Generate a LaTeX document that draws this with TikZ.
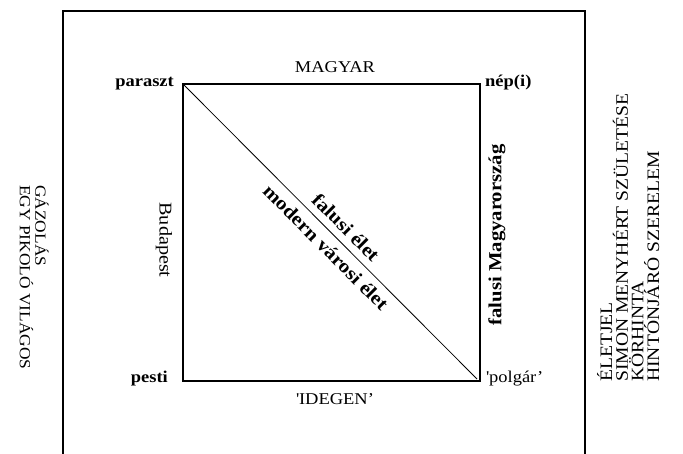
\documentclass[tikz,border=0pt]{standalone}
\usepackage{fontspec}
\setmainfont{Liberation Serif}[FakeStretch=1.12]
\tikzset{
  frameline/.style={line width=1.1pt},
  sqline/.style={line width=1.1pt},
  diagline/.style={line width=0.8pt},
  lbl/.style={font=\fontsize{16.5}{16.5}\selectfont, inner sep=0pt},
  blbl/.style={font=\fontsize{16.5}{16.5}\selectfont\bfseries, inner sep=0pt},
  sidebox/.style={inner sep=0pt, align=left}
}
\begin{document}
\begin{tikzpicture}[x=1pt,y=-1pt]
\useasboundingbox (0,0) rectangle (683,454);
% outer frame
\coordinate (oTL) at (63,11);
\coordinate (oTR) at (585,11);
\coordinate (oBL) at (63,454);
\coordinate (oBR) at (585,454);
\draw[frameline] (oBL) -- (oTL) -- (oTR) -- (oBR);
% square
\coordinate (pTL) at (183,84);
\coordinate (pTR) at (480,84);
\coordinate (pBL) at (183,381);
\coordinate (pBR) at (480,381);
\coordinate (dEnd) at (477,379);
\draw[sqline] (pTL) -- (pTR) -- (pBR) -- (pBL) -- cycle;
\draw[diagline] (pTL) -- (dEnd)
  node[pos=0.52, sloped, above=7pt, blbl, font=\fontsize{19}{19}\selectfont\bfseries] (fe) {falusi élet}
  node[pos=0.52, sloped, below=7pt, blbl, font=\fontsize{19}{19}\selectfont\bfseries] (mve) {modern városi élet};
% corner labels
\node[lbl, anchor=base] (magyar) at (335,73) {MAGYAR};
\node[blbl, anchor=base east] (paraszt) at (174,87) {paraszt};
\node[blbl, anchor=base west] (nepi) at (485,87) {nép(i)};
\node[blbl, anchor=base east] (pesti) at (168,382) {pesti};
\node[lbl, anchor=base west] (polgar) at (486,382) {\textquotesingle polgár’};
\node[lbl, anchor=base] (idegen) at (335,404) {\textquotesingle IDEGEN’};
% side labels
\node[lbl, rotate=-90, font=\fontsize{18}{18}\selectfont] (budapest) at (164,240) {Budapest};
\node[blbl, rotate=90, font=\fontsize{18.5}{18.5}\selectfont\bfseries] (falmo) at (497,235) {falusi Magyarország};
% outer texts
\node[sidebox, rotate=-90, anchor=north west, font=\fontsize{15.5}{15.5}\selectfont] (left) at (49,185) {GÁZOLÁS\\EGY PIKOLÓ VILÁGOS};
\node[sidebox, rotate=90, anchor=north west, font=\fontsize{17.5}{15.6}\selectfont] (right) at (597,382) {ÉLETJEL\\SIMON MENYHÉRT SZÜLETÉSE\\KÖRHINTA\\HINTÓNJÁRÓ SZERELEM};
\end{tikzpicture}
\end{document}
